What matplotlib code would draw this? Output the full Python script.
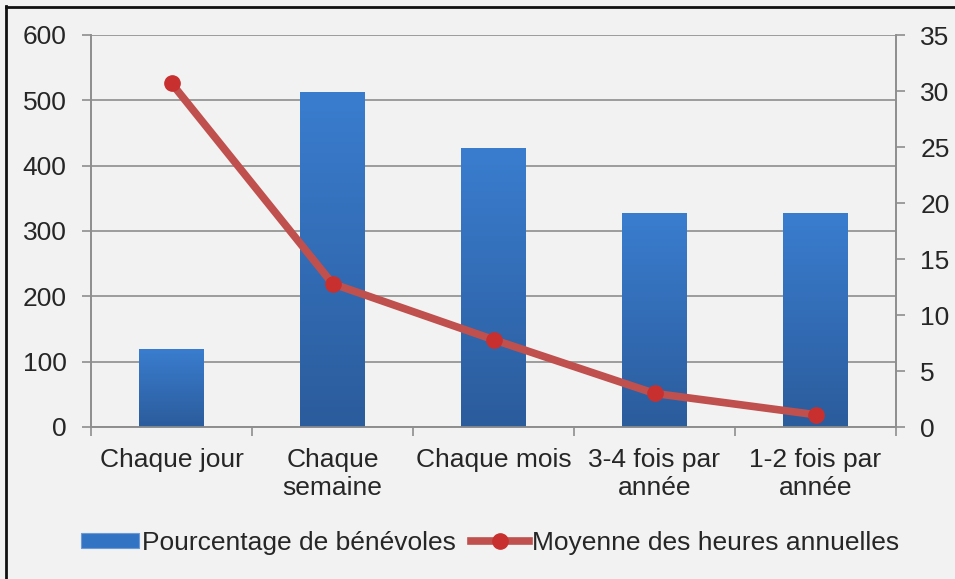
import matplotlib
matplotlib.use("Agg")
import matplotlib.pyplot as plt
import numpy as np
from matplotlib.patches import Rectangle
from matplotlib.lines import Line2D
from matplotlib.colors import LinearSegmentedColormap

plt.rcParams['font.family'] = ['Liberation Sans', 'DejaVu Sans']

categories = ["Chaque jour", "Chaque\nsemaine", "Chaque mois", "3-4 fois par\nannée", "1-2 fois par\nannée"]
pct_benevoles = [120, 513, 427, 327, 327]
heures_moyennes = [30.7, 12.8, 7.8, 3.0, 1.1]
left_ticks = [0, 100, 200, 300, 400, 500, 600]
right_ticks = [0, 5, 10, 15, 20, 25, 30, 35]

W, H = 955, 579
FS = 19
fig = plt.figure(figsize=(W/100, H/100), dpi=100)
fig.patch.set_facecolor("#f2f2f2")

L, R, T, B = 91, 896, 35, 427
ax = fig.add_axes([L/W, 1-B/H, (R-L)/W, (B-T)/H])
ax.set_facecolor("#f2f2f2")
ax2 = ax.twinx()

grid_c = "#8e8e8e"
txt_c = "#262626"
x = np.arange(len(categories))
bars = ax.bar(x, pct_benevoles, width=0.4, color="#3373c4", zorder=2, linewidth=0)

cmap = LinearSegmentedColormap.from_list("g", ["#2b5c9c", "#3a7dcf"])
grad = np.linspace(0, 1, 256).reshape(-1, 1)
for b in bars:
    x0, y0 = b.get_x(), b.get_y()
    w, h = b.get_width(), b.get_height()
    im = ax.imshow(grad, cmap=cmap, origin="lower", aspect="auto",
                   extent=[x0, x0 + w, y0, y0 + h], zorder=3)
    im.set_clip_path(b)

ax.set_xlim(-0.5, len(categories) - 0.5)
ax.set_ylim(0, 600)
ax.set_yticks(left_ticks)
ax.yaxis.grid(True, color=grid_c, linewidth=1.2, zorder=0)
ax.set_axisbelow(True)

ax.set_xticks(x)
ax.set_xticklabels(categories, fontsize=FS, color=txt_c, linespacing=1.22)
ax.set_xticks(np.arange(-0.5, len(categories)), minor=True)
ax.tick_params(axis="x", which="major", length=0, pad=15)
ax.tick_params(axis="x", which="minor", length=6.5, width=1.2, color=grid_c)
ax.tick_params(axis="y", length=6.5, width=1.2, color=grid_c, labelsize=FS, labelcolor=txt_c, pad=11)

line_kw = dict(color="#c0504d", linewidth=5.5, marker="o", markersize=11,
               markerfacecolor="#c8302f", markeredgecolor="#c8302f")
ax2.plot(x, heures_moyennes, zorder=5, solid_capstyle="round", **line_kw)
ax2.set_ylim(0, 35)
ax2.set_yticks(right_ticks)
ax2.tick_params(axis="y", length=6.5, width=1.2, color=grid_c, labelsize=FS, labelcolor=txt_c, pad=11)
ax2.set_zorder(ax.get_zorder() + 1)
ax2.patch.set_visible(False)

for a in (ax, ax2):
    a.spines["top"].set_visible(False)
    for s in ("left", "right", "bottom"):
        a.spines[s].set_color(grid_c)
        a.spines[s].set_linewidth(1.2)

handles = [
    Rectangle((0, 0), 1, 1, facecolor="#3373c4", edgecolor="#6a9ad8", linewidth=0.8),
    Line2D([0], [0], **line_kw),
]
labels = ["Pourcentage de bénévoles", "Moyenne des heures annuelles"]
leg = fig.legend(handles, labels, loc="center", bbox_to_anchor=(490/W, 1-543/H),
                 ncol=2, frameon=False, fontsize=FS, handlelength=2.2,
                 handleheight=0.53, handletextpad=0.12, columnspacing=0.55,
                 labelcolor=txt_c, borderpad=0)

# figure border (left and top)
fig.add_artist(Line2D([6/W, 6/W], [0, 1-6/H], color="#111111", linewidth=2, transform=fig.transFigure))
fig.add_artist(Line2D([6/W, 1], [1-7/H, 1-7/H], color="#111111", linewidth=2, transform=fig.transFigure))

fig.savefig("out.png", dpi=100, facecolor=fig.get_facecolor())
